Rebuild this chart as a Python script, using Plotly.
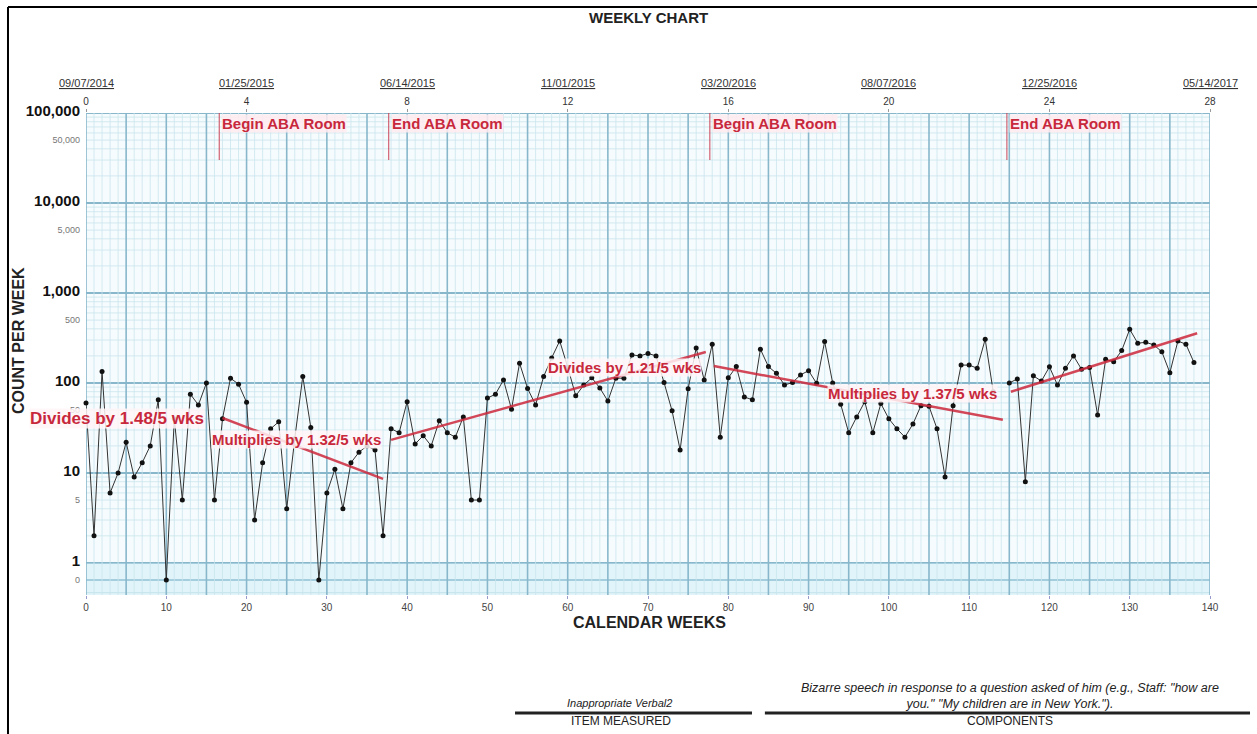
import plotly.graph_objects as go
import math

# ---------------- data ----------------
weeks = list(range(0, 139))
counts = [60, 2, 134, 6, 10, 22, 9, 13, 20, 65,
          0, 40, 5, 75, 57, 100, 5, 40, 113, 97,
          61, 3, 13, 31, 37, 4, 24, 118, 32, 0,
          6, 11, 4, 13, 17, 20, 18, 2, 31, 28,
          62, 21, 26, 20, 38, 28, 25, 42, 5, 5,
          68, 75, 108, 51, 166, 87, 57, 118, 190, 293,
          150, 72, 95, 114, 88, 63, 113, 113, 205, 200,
          213, 200, 101, 49, 18, 86, 245, 108, 270, 25,
          114, 152, 70, 65, 237, 152, 128, 95, 101, 123,
          137, 99, 289, 100, 58, 28, 42, 62, 28, 59,
          40, 31, 25, 35, 56, 55, 31, 9, 56, 158,
          158, 146, 306, 80, None, 100, 111, 8, 120, 105,
          151, 95, 146, 200, 142, 149, 44, 183, 172, 229,
          395, 277, 283, 265, 222, 130, 292, 270, 169]

# celeration lines (start week, end week) and (start value, end value)
cel_weeks = [[17, 37], [38, 77.2], [78.2, 114.2], [115.2, 138.4]]
cel_values = [[40.8, 8.6], [23.3, 221], [154, 39], [80, 357]]
cel_labels = ["Divides by 1.48/5 wks", "Multiplies by 1.32/5 wks",
              "Divides by 1.21/5 wks", "Multiplies by 1.37/5 wks"]
cel_label_weeks = [3.9, 26.2, 67.1, 103.0]
cel_label_values = [40.8, 23.3, 147, 75.5]
cel_label_sizes = [17, 15, 15, 15]

phase_weeks = [16.6, 37.7, 77.7, 114.7]
phase_labels = ["Begin ABA Room", "End ABA Room", "Begin ABA Room", "End ABA Room"]

top_tick_weeks = [0, 20, 40, 60, 80, 100, 120, 140]
top_tick_labels = ["0", "4", "8", "12", "16", "20", "24", "28"]
top_dates = ["09/07/2014", "01/25/2015", "06/14/2015", "11/01/2015",
             "03/20/2016", "08/07/2016", "12/25/2016", "05/14/2017"]

ZERO_ROW = 10 ** -0.19   # position of the "0" row on the log scale
Y_BOTTOM = 10 ** -0.356

y_tick_vals = [1e5, 5e4, 1e4, 5e3, 1e3, 500, 100, 50, 10, 5, 1, ZERO_ROW]
y_tick_text = ["100,000", "50,000", "10,000", "5,000", "1,000", "500",
               "100", "50", "10", "5", "1", "0"]
y_tick_major = [True, False, True, False, True, False, True, False, True, False, True, False]

# ---------------- figure ----------------
plot_y = [ZERO_ROW if (c == 0) else c for c in counts]

fig = go.Figure()

RED = "rgba(205,40,60,0.85)"
for cw, cv in zip(cel_weeks, cel_values):
    fig.add_trace(go.Scatter(x=cw, y=cv, mode="lines", xaxis="x2",
                             line=dict(color=RED, width=2.5),
                             hoverinfo="skip", showlegend=False))

fig.add_trace(go.Scatter(x=weeks, y=plot_y, mode="lines+markers",
                         line=dict(color="#333333", width=1),
                         marker=dict(color="#111111", size=5),
                         connectgaps=False, cliponaxis=False,
                         showlegend=False))

shapes = []
LIGHT = "#c9e5ee"
DARK = "#88b7cb"
# vertical grid
for w in range(0, 141):
    major = (w % 5 == 0)
    shapes.append(dict(type="line", xref="x", yref="y", x0=w, x1=w,
                       y0=Y_BOTTOM, y1=1e5, layer="below",
                       line=dict(color=DARK if major else LIGHT,
                                 width=1.6 if major else 0.8)))
# horizontal grid
for e in range(0, 5):
    for k in range(2, 10):
        v = k * 10 ** e
        shapes.append(dict(type="line", xref="paper", yref="y", x0=0, x1=1,
                           y0=v, y1=v, layer="below",
                           line=dict(color=LIGHT, width=0.8)))
for e in range(0, 6):
    v = 10 ** e
    shapes.append(dict(type="line", xref="paper", yref="y", x0=0, x1=1,
                       y0=v, y1=v, layer="below",
                       line=dict(color=DARK, width=2)))
shapes.append(dict(type="line", xref="paper", yref="y", x0=0, x1=1,
                   y0=ZERO_ROW, y1=ZERO_ROW, layer="below",
                   line=dict(color=DARK, width=2)))
shapes.append(dict(type="rect", xref="paper", yref="y", x0=0, x1=1,
                   y0=Y_BOTTOM, y1=1, layer="below", line=dict(width=0),
                   fillcolor="rgba(200,235,245,0.45)"))
shapes.append(dict(type="line", xref="paper", yref="y", x0=0, x1=1,
                   y0=Y_BOTTOM * 1.06, y1=Y_BOTTOM * 1.06, layer="below",
                   line=dict(color=LIGHT, width=1.2)))
# phase change lines
for pw in phase_weeks:
    shapes.append(dict(type="line", xref="x", yref="y", x0=pw, x1=pw,
                       y0=30000, y1=1e5,
                       line=dict(color="rgba(200,60,80,0.8)", width=1.2)))
# page frame and footer rules
shapes.append(dict(type="line", xref="paper", yref="paper", x0=-0.0694, x1=1.05,
                   y0=1.22, y1=1.22, line=dict(color="black", width=2)))
shapes.append(dict(type="line", xref="paper", yref="paper", x0=-0.0694, x1=-0.0694,
                   y0=1.22, y1=-0.3, line=dict(color="black", width=2)))
shapes.append(dict(type="line", xref="paper", yref="paper", x0=0.3817, x1=0.5925,
                   y0=-0.2448, y1=-0.2448, line=dict(color="#222", width=3)))
shapes.append(dict(type="line", xref="paper", yref="paper", x0=0.604, x1=1.0356,
                   y0=-0.2448, y1=-0.2448, line=dict(color="#222", width=3)))

def py(p):
    """pixel row -> paper y"""
    return (595 - p) / 482

def px(p):
    return (p - 86) / 1124

annotations = []
TXT_RED = "#c8283c"
for lab, lw, lv, ls in zip(cel_labels, cel_label_weeks, cel_label_values, cel_label_sizes):
    annotations.append(dict(x=lw, y=math.log10(lv), xref="x", yref="y",
                            text=f"<b>{lab}</b>", showarrow=False,
                            xanchor="center", yanchor="middle",
                            font=dict(family="Liberation Sans", size=ls, color=TXT_RED),
                            bgcolor="rgba(255,245,247,0.85)", borderpad=0))
for lab, pw in zip(phase_labels, phase_weeks):
    annotations.append(dict(x=pw, y=math.log10(75500), xref="x", yref="y",
                            text=f"<b>{lab}</b>", showarrow=False, xanchor="left",
                            yanchor="middle", xshift=2,
                            font=dict(family="Liberation Sans", size=15, color=TXT_RED),
                            bgcolor="rgba(255,235,240,0.85)", borderpad=0))
for tw, d in zip(top_tick_weeks, top_dates):
    annotations.append(dict(x=tw, y=py(83), xref="x", yref="paper",
                            text=f"<u>{d}</u>", showarrow=False,
                            xanchor="center", yanchor="middle",
                            font=dict(family="Liberation Sans", size=11, color="#333")))

def note(x, y, text, size, angle=0):
    return dict(x=px(x), y=py(y), xref="paper", yref="paper", text=text,
                showarrow=False, xanchor="center", yanchor="middle", textangle=angle,
                font=dict(family="Liberation Sans", size=size, color="#222"))

annotations += [
    note(648, 17, "<b>WEEKLY CHART</b>", 15),
    note(649, 622, "<b>CALENDAR WEEKS</b>", 16),
    note(18, 341, "<b>COUNT PER WEEK</b>", 16, -90),
    note(619, 703, "<i>Inappropriate Verbal2</i>", 11),
    note(621, 721, "ITEM MEASURED", 12),
    note(1010, 696, "<i>Bizarre speech in response to a question asked of him (e.g., Staff: \"how are<br>you.\" \"My children are in New York.\").</i>", 12.5),
    note(1010, 721, "COMPONENTS", 12),
]

ytext = []
for t, major in zip(y_tick_text, y_tick_major):
    if major:
        ytext.append(f"<span style='font-size:15px;font-weight:bold;fill:#111'>{t}</span>")
    else:
        ytext.append(t)

fig.update_layout(
    width=1257, height=734,
    margin=dict(l=86, r=47, t=113, b=139),
    paper_bgcolor="white", plot_bgcolor="#f6fcfd",
    font=dict(family="Liberation Sans", color="#333"),
    xaxis=dict(range=[0, 140], tickvals=list(range(0, 141, 10)),
               showgrid=False, zeroline=False, ticks="outside", ticklen=3,
               tickcolor="#99c", tickfont=dict(size=10, color="#444"),
               showline=False),
    xaxis2=dict(range=[0, 140], overlaying="x", side="top",
                tickvals=top_tick_weeks, ticktext=top_tick_labels,
                showgrid=False, zeroline=False, ticks="outside", ticklen=3,
                tickcolor="#999", tickfont=dict(size=10, color="#333")),
    yaxis=dict(type="log", range=[math.log10(Y_BOTTOM), 5],
               tickvals=y_tick_vals, ticktext=ytext,
               showgrid=False, zeroline=False, ticks="",
               ticklabelstandoff=5,
               tickfont=dict(size=9, color="#777")),
    shapes=shapes, annotations=annotations,
)

fig.write_html("out.html")
